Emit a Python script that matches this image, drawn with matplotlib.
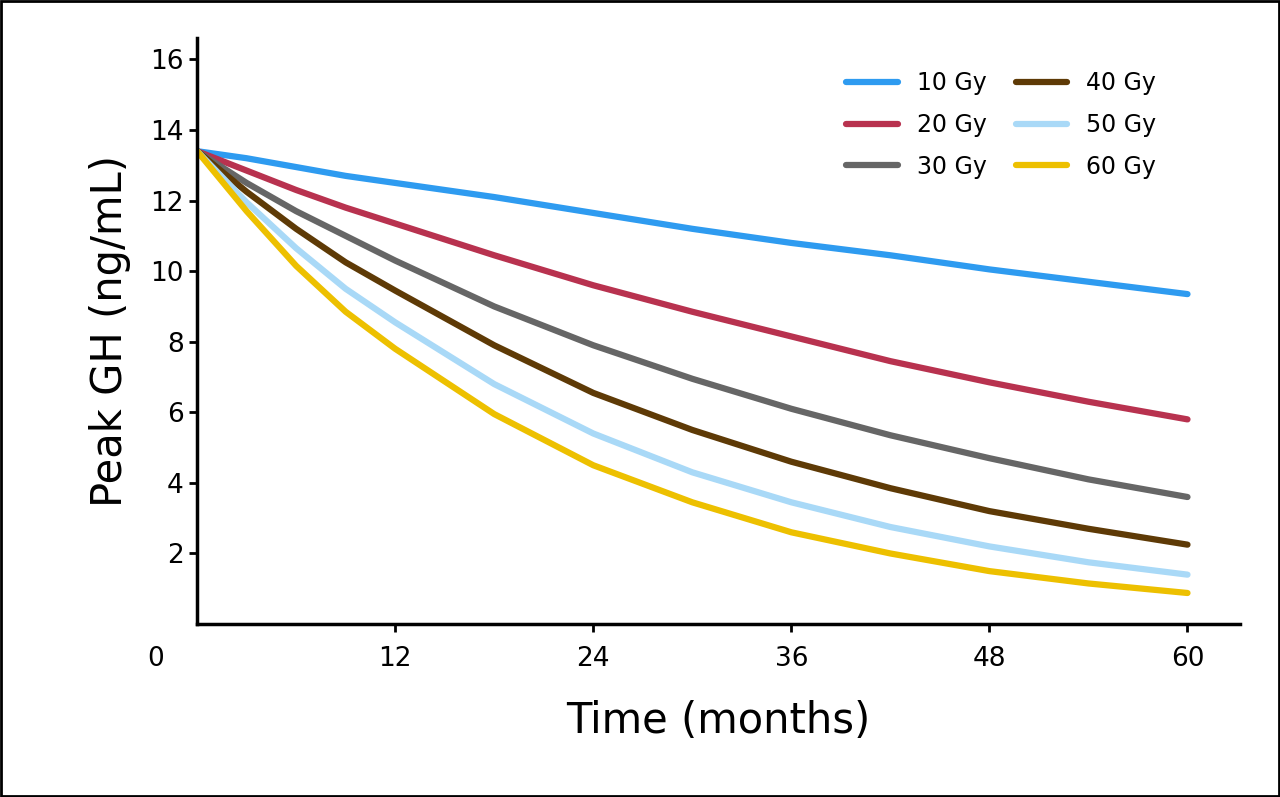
import matplotlib
matplotlib.use("Agg")
import matplotlib.pyplot as plt
import matplotlib.patches as patches

meses = [0, 3, 6, 9, 12, 18, 24, 30, 36, 42, 48, 54, 60]
doses = ["10 Gy", "20 Gy", "30 Gy", "40 Gy", "50 Gy", "60 Gy"]
gh_10 = [13.4, 13.2, 12.95, 12.7, 12.5, 12.1, 11.65, 11.2, 10.8, 10.45, 10.05, 9.7, 9.35]
gh_20 = [13.4, 12.85, 12.3, 11.8, 11.35, 10.45, 9.6, 8.85, 8.15, 7.45, 6.85, 6.3, 5.8]
gh_30 = [13.4, 12.5, 11.7, 11.0, 10.3, 9.0, 7.9, 6.95, 6.1, 5.35, 4.7, 4.1, 3.6]
gh_40 = [13.4, 12.25, 11.2, 10.25, 9.45, 7.9, 6.55, 5.5, 4.6, 3.85, 3.2, 2.7, 2.25]
gh_50 = [13.4, 11.95, 10.65, 9.5, 8.55, 6.8, 5.4, 4.3, 3.45, 2.75, 2.2, 1.75, 1.4]
gh_60 = [13.4, 11.7, 10.15, 8.85, 7.8, 5.95, 4.5, 3.45, 2.6, 2.0, 1.5, 1.15, 0.88]
cores = ["#2E9BF0", "#B8324F", "#666666", "#5E3A06", "#A9D9F7", "#EDC000"]
series = [gh_10, gh_20, gh_30, gh_40, gh_50, gh_60]

fig = plt.figure(figsize=(12.8, 7.97), dpi=100)
ax = fig.add_axes([0.154, 0.217, 0.815, 0.735])
for nome, vals, cor in zip(doses, series, cores):
    ax.plot(meses, vals, color=cor, linewidth=4.5, label=nome, solid_capstyle="round",
            solid_joinstyle="round")

ax.set_xlim(0, 63.2)
ax.set_ylim(0, 16.6)
ax.set_xticks([12, 24, 36, 48, 60])
ax.set_yticks([2, 4, 6, 8, 10, 12, 14, 16])
ax.tick_params(labelsize=19, width=2, length=6)
ax.tick_params(axis="x", pad=10)
for lado in ["top", "right"]:
    ax.spines[lado].set_visible(False)
for lado in ["left", "bottom"]:
    ax.spines[lado].set_linewidth(2.5)
ax.text(-0.04, -0.06, "0", transform=ax.transAxes, fontsize=19, ha="center", va="center")
ax.set_xlabel("Time (months)", fontsize=30, labelpad=20)
ax.set_ylabel("Peak GH (ng/mL)", fontsize=30, labelpad=14)
ax.legend(ncol=2, frameon=False, loc="upper right", fontsize=17, handlelength=2.2,
          columnspacing=1.2, labelspacing=0.75, bbox_to_anchor=(0.94, 0.98))

fig.add_artist(patches.Rectangle((0.001, 0.001), 0.998, 0.998, transform=fig.transFigure,
                                 fill=False, edgecolor="black", linewidth=2))
fig.savefig("out.png", dpi=100)
